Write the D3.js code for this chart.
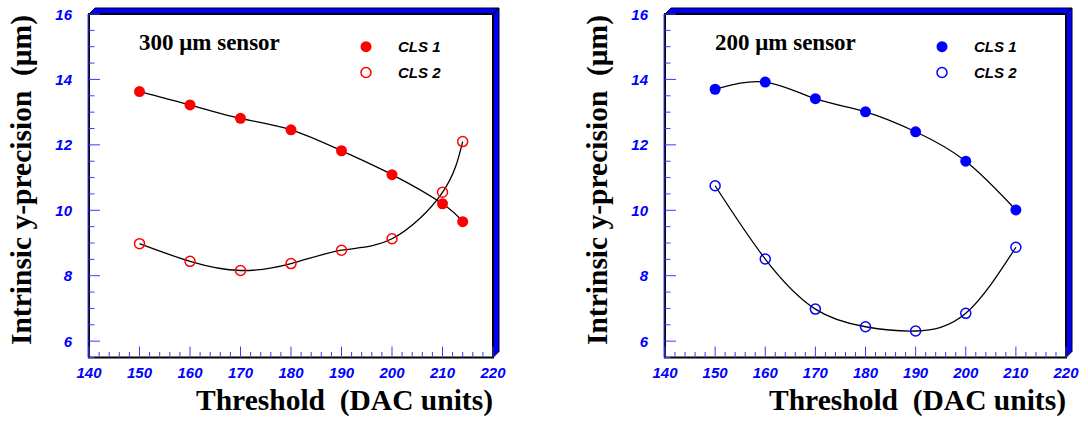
<!DOCTYPE html>
<html>
<head>
<meta charset="utf-8">
<script src="https://cdnjs.cloudflare.com/ajax/libs/d3/7.8.5/d3.min.js"></script>
<style>
  body { margin: 0; background: #fff; }
  svg { display: block; }
  .tick-label { font-family: "Liberation Sans", Arial, sans-serif; font-weight: bold; font-style: italic; font-size: 15px; fill: #0000ff; }
  .axis-title { font-family: "Liberation Serif", "Times New Roman", serif; font-weight: bold; font-size: 29.5px; fill: #000; white-space: pre; }
  .panel-title { font-family: "Liberation Serif", "Times New Roman", serif; font-weight: bold; font-size: 23px; fill: #000; }
  .legend-label { font-family: "Liberation Sans", Arial, sans-serif; font-weight: bold; font-style: italic; font-size: 15px; fill: #000; }
</style>
</head>
<body>
<script>
// thresholds (DAC units)
const thr300 = [150, 160, 170, 180, 190, 200, 210, 214];
const thr200 = [150, 160, 170, 180, 190, 200, 210];

// intrinsic y-precision (um)
const cls1_300 = [13.63, 13.22, 12.81, 12.46, 11.82, 11.09, 10.20, 9.65];
const cls2_300 = [8.98, 8.44, 8.16, 8.37, 8.78, 9.13, 10.55, 12.10];
const cls1_200 = [13.70, 13.92, 13.41, 13.01, 12.40, 11.50, 10.01];
const cls2_200 = [10.75, 8.51, 6.98, 6.44, 6.31, 6.85, 8.87];

const seriesNames = ['CLS 1', 'CLS 2'];
const xTicks = [140, 150, 160, 170, 180, 190, 200, 210, 220];
const yTicks = [6, 8, 10, 12, 14, 16];

const W = 1088, H = 421;
const svg = d3.select('body').append('svg').attr('width', W).attr('height', H);

function drawPanel(opt) {
  const x0 = opt.x0, x1 = opt.x0 + opt.w, y0 = 14, y1 = 357.5;
  const x = d3.scaleLinear().domain([140, 220]).range([x0, x1]);
  const y = d3.scaleLinear().domain([5.5, 16]).range([y1, y0]);
  const g = svg.append('g');
  const d = 6;

  // 3D shadow
  g.append('polygon')
    .attr('points', [[x0, y0], [x0 + d, y0 - d], [x1 + d, y0 - d], [x1, y0]].join(' '))
    .attr('fill', '#0000ff').attr('stroke', '#000').attr('stroke-width', 1);
  g.append('polygon')
    .attr('points', [[x1, y0], [x1 + d, y0 - d], [x1 + d, y1 - d], [x1, y1]].join(' '))
    .attr('fill', '#0000ff').attr('stroke', '#000').attr('stroke-width', 1);

  g.append('rect')
    .attr('x', x0).attr('y', y0).attr('width', x1 - x0).attr('height', y1 - y0)
    .attr('fill', '#fff').attr('stroke', '#000').attr('stroke-width', 2);

  // ticks
  const xMinor = d3.range(140, 220.01, 2);
  g.selectAll('.xt').data(xMinor).enter().append('line')
    .attr('x1', v => x(v)).attr('x2', v => x(v))
    .attr('y1', y1).attr('y2', v => y1 - (v % 10 === 0 ? 11 : 5.5))
    .attr('stroke', '#3b3bff').attr('stroke-width', 1);
  const yMinor = d3.range(5.5, 16.01, 0.5);
  g.selectAll('.yt').data(yMinor).enter().append('line')
    .attr('y1', v => y(v)).attr('y2', v => y(v))
    .attr('x1', x0).attr('x2', v => x0 + (v % 2 === 0 ? 11 : 5.5))
    .attr('stroke', '#3b3bff').attr('stroke-width', 1);
  g.append('line').attr('x1', x0 - 1).attr('x2', x0 - 1).attr('y1', y0).attr('y2', y1)
    .attr('stroke', '#3b3bff').attr('stroke-width', 1);

  g.selectAll('.xl').data(xTicks).enter().append('text')
    .attr('class', 'tick-label').attr('x', v => x(v)).attr('y', 378)
    .attr('text-anchor', 'middle').text(v => v);
  g.selectAll('.yl').data(yTicks).enter().append('text')
    .attr('class', 'tick-label').attr('x', x0 - 17).attr('y', v => y(v) + 5.5)
    .attr('text-anchor', 'end').text(v => v);

  // axis titles
  g.append('text').attr('class', 'axis-title')
    .attr('transform', `translate(${x0 - 58},${y0 + 1}) rotate(-90)`)
    .attr('text-anchor', 'end').text('Intrinsic y-precision  (\u03bcm)');
  g.append('text').attr('class', 'axis-title')
    .attr('x', x1).attr('y', 410).attr('text-anchor', 'end')
    .text('Threshold  (DAC units)');

  g.append('text').attr('class', 'panel-title')
    .attr('x', x0 + 50).attr('y', 50).text(opt.title);

  // curves
  const line = d3.line().x(p => x(p[0])).y(p => y(p[1])).curve(d3.curveNatural);
  [opt.s1, opt.s2].forEach(vals => {
    g.append('path').datum(opt.xs.map((t, i) => [t, vals[i]]))
      .attr('d', line).attr('fill', 'none').attr('stroke', '#000').attr('stroke-width', 1.3);
  });

  g.selectAll('.p1').data(opt.xs.map((t, i) => [t, opt.s1[i]])).enter().append('circle')
    .attr('cx', p => x(p[0])).attr('cy', p => y(p[1])).attr('r', 5.5)
    .attr('fill', opt.color);
  g.selectAll('.p2').data(opt.xs.map((t, i) => [t, opt.s2[i]])).enter().append('circle')
    .attr('cx', p => x(p[0])).attr('cy', p => y(p[1])).attr('r', 5)
    .attr('fill', 'none').attr('stroke', opt.color).attr('stroke-width', 1.5);

  // legend
  const lx = x0 + 277, ly = [46.7, 72.5];
  g.append('circle').attr('cx', lx).attr('cy', ly[0]).attr('r', 5.5).attr('fill', opt.color);
  g.append('circle').attr('cx', lx).attr('cy', ly[1]).attr('r', 5)
    .attr('fill', 'none').attr('stroke', opt.color).attr('stroke-width', 1.5);
  seriesNames.forEach((n, i) => {
    g.append('text').attr('class', 'legend-label')
      .attr('x', lx + 32).attr('y', ly[i] + 5.5).text(n);
  });
}

drawPanel({ x0: 89, w: 404, title: '300 \u03bcm sensor', xs: thr300, s1: cls1_300, s2: cls2_300, color: '#ff0000' });
drawPanel({ x0: 665, w: 401, title: '200 \u03bcm sensor', xs: thr200, s1: cls1_200, s2: cls2_200, color: '#0000ff' });
</script>
</body>
</html>
